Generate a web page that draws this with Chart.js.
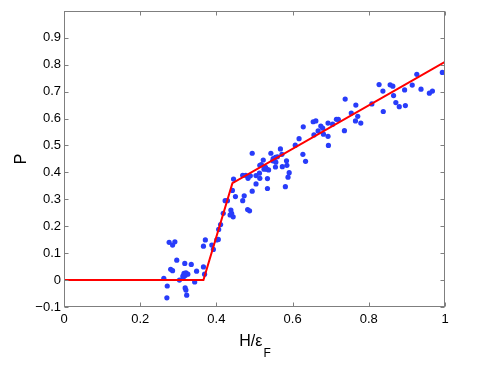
<!DOCTYPE html>
<html>
<head>
<meta charset="utf-8">
<script src="https://cdn.jsdelivr.net/npm/chart.js@4.4.0/dist/chart.umd.min.js"></script>
<style>
  html, body { margin: 0; padding: 0; background: #fff; }
  #wrap { width: 491px; height: 365px; position: relative; }
</style>
</head>
<body>
<div id="wrap"><canvas id="chart"></canvas></div>
<script>
// ── Data ─────────────────────────────────────────────────────────────────────
const pointsX = [
  0.276, 0.291, 0.285, 0.296, 0.280, 0.285, 0.317, 0.334, 0.262, 0.271,
  0.270, 0.303, 0.312, 0.315, 0.320, 0.325, 0.313, 0.318, 0.318, 0.320,
  0.322, 0.343, 0.348, 0.366, 0.369, 0.371, 0.366, 0.388, 0.392, 0.401,
  0.405, 0.406, 0.411, 0.418, 0.423, 0.429, 0.438, 0.440, 0.436, 0.444,
  0.442, 0.450, 0.445, 0.469, 0.477, 0.483, 0.489, 0.469, 0.473, 0.482,
  0.487, 0.494, 0.494, 0.504, 0.504, 0.513, 0.514, 0.518, 0.523, 0.514,
  0.525, 0.532, 0.537, 0.529, 0.534, 0.534, 0.543, 0.549, 0.555, 0.560,
  0.548, 0.555, 0.556, 0.568, 0.572, 0.573, 0.585, 0.584, 0.591, 0.588,
  0.581, 0.607, 0.617, 0.628, 0.627, 0.634, 0.654, 0.661, 0.667, 0.674,
  0.679, 0.656, 0.681, 0.693, 0.693, 0.694, 0.705, 0.715, 0.720, 0.736,
  0.738, 0.754, 0.766, 0.765, 0.771, 0.779, 0.808, 0.827, 0.837, 0.838,
  0.856, 0.863, 0.865, 0.871, 0.880, 0.894, 0.896, 0.914, 0.926, 0.937,
  0.959, 0.967, 0.993
];
const pointsY = [
  0.140, 0.142, 0.130, 0.074, 0.040, 0.035, 0.062, 0.058, 0.006, -0.022,
  -0.066, 0.000, 0.015, 0.025, 0.027, 0.022, 0.010, 0.017, -0.029, -0.037,
  -0.056, -0.007, 0.033, 0.049, 0.022, 0.149, 0.126, 0.130, 0.114, 0.149,
  0.151, 0.188, 0.206, 0.248, 0.295, 0.295, 0.260, 0.248, 0.242, 0.235,
  0.333, 0.310, 0.375, 0.389, 0.389, 0.378, 0.387, 0.295, 0.313, 0.262,
  0.257, 0.471, 0.330, 0.357, 0.388, 0.397, 0.426, 0.429, 0.446, 0.378,
  0.412, 0.412, 0.409, 0.419, 0.377, 0.340, 0.471, 0.451, 0.456, 0.458,
  0.443, 0.420, 0.438, 0.487, 0.467, 0.421, 0.426, 0.443, 0.399, 0.382,
  0.347, 0.501, 0.525, 0.569, 0.467, 0.441, 0.588, 0.591, 0.554, 0.572,
  0.564, 0.539, 0.542, 0.534, 0.583, 0.500, 0.579, 0.597, 0.597, 0.555,
  0.672, 0.620, 0.650, 0.591, 0.608, 0.583, 0.654, 0.726, 0.702, 0.626,
  0.725, 0.720, 0.685, 0.659, 0.644, 0.706, 0.648, 0.724, 0.764, 0.709,
  0.694, 0.702, 0.771
];
// piecewise linear fit (red)
const fitX = [0, 0.366, 0.442, 1.0];
const fitY = [0, 0, 0.36, 0.81];

const xTicks = [0, 0.2, 0.4, 0.6, 0.8, 1];
const yTicks = [-0.1, 0, 0.1, 0.2, 0.3, 0.4, 0.5, 0.6, 0.7, 0.8, 0.9];

const AXIS_GRAY = '#7f7f7f';
const FONT = '"Liberation Sans", Arial, Helvetica, sans-serif';

function fmt(v) {
  const r = Math.round(v * 10) / 10;
  if (r === 0) return '0';
  if (r === 1) return '1';
  return (r < 0 ? '\u2212' : '') + Math.abs(r).toFixed(1);
}

// ── MATLAB-style box, inward ticks and axis titles ───────────────────────────
const matlabAxes = {
  id: 'matlabAxes',
  afterDraw(chart) {
    const { ctx, chartArea: a, scales } = chart;
    const L = Math.round(a.left) + 0.5, R = Math.round(a.right) - 0.5;
    const T = Math.round(a.top) + 0.5,  B = Math.round(a.bottom) - 0.5;
    ctx.save();
    ctx.strokeStyle = AXIS_GRAY;
    ctx.lineWidth = 1;
    ctx.strokeRect(L, T, R - L, B - T);
    ctx.beginPath();
    xTicks.forEach(v => {
      const px = Math.round(scales.x.getPixelForValue(v)) + 0.5;
      ctx.moveTo(px, B); ctx.lineTo(px, B - 4);
      ctx.moveTo(px, T); ctx.lineTo(px, T + 4);
    });
    yTicks.forEach(v => {
      const py = Math.round(scales.y.getPixelForValue(v)) + 0.5;
      ctx.moveTo(L, py); ctx.lineTo(L + 4, py);
      ctx.moveTo(R, py); ctx.lineTo(R - 4, py);
    });
    ctx.stroke();

    // y title
    ctx.fillStyle = '#000';
    ctx.font = '16px ' + FONT;
    ctx.textAlign = 'center';
    ctx.textBaseline = 'middle';
    ctx.save();
    ctx.translate(22, (a.top + a.bottom) / 2);
    ctx.rotate(-Math.PI / 2);
    ctx.fillText('P', 0, 0);
    ctx.restore();

    // x title with subscript
    const main = 'H/\u03b5', sub = 'F';
    ctx.textAlign = 'left';
    ctx.textBaseline = 'alphabetic';
    ctx.font = '16px ' + FONT;
    const wMain = ctx.measureText(main).width;
    ctx.font = '12px ' + FONT;
    const wSub = ctx.measureText(sub).width;
    const x0 = (a.left + a.right) / 2 - (wMain + wSub) / 2;
    ctx.font = '16px ' + FONT;
    ctx.fillText(main, x0, 346);
    ctx.font = '12px ' + FONT;
    ctx.fillText(sub, x0 + wMain + 1, 357);
    ctx.restore();
  }
};

const scatterData = pointsX.map((x, i) => ({ x, y: pointsY[i] }));
const fitData = fitX.map((x, i) => ({ x, y: fitY[i] }));

new Chart(document.getElementById('chart'), {
  type: 'scatter',
  data: {
    datasets: [
      {
        type: 'line',
        label: 'fit',
        data: fitData,
        borderColor: '#ff0000',
        borderWidth: 2,
        pointRadius: 0,
        tension: 0,
        fill: false,
        order: 0
      },
      {
        label: 'data',
        data: scatterData,
        backgroundColor: 'rgb(40,60,250)',
        borderWidth: 0,
        pointRadius: 2.6,
        order: 1
      }
    ]
  },
  plugins: [matlabAxes],
  options: {
    animation: false,
    responsive: true,
    maintainAspectRatio: false,
    layout: { padding: { left: 0, right: 46, top: 10, bottom: 0 } },
    plugins: { legend: { display: false }, tooltip: { enabled: false } },
    scales: {
      x: {
        type: 'linear',
        min: 0, max: 1,
        afterFit: s => { s.height = 58; },
        afterBuildTicks: s => { s.ticks = xTicks.map(v => ({ value: v })); },
        grid: { display: false, drawTicks: false },
        border: { display: false },
        ticks: { padding: 5, color: '#000', font: { family: FONT, size: 13 }, callback: fmt, maxRotation: 0 }
      },
      y: {
        type: 'linear',
        min: -0.1, max: 1.0,
        afterFit: s => { s.width = 64; },
        afterBuildTicks: s => { s.ticks = yTicks.map(v => ({ value: v })); },
        grid: { display: false, drawTicks: false },
        border: { display: false },
        ticks: { padding: 3, color: '#000', font: { family: FONT, size: 13 }, callback: fmt }
      }
    }
  }
});
</script>
</body>
</html>
